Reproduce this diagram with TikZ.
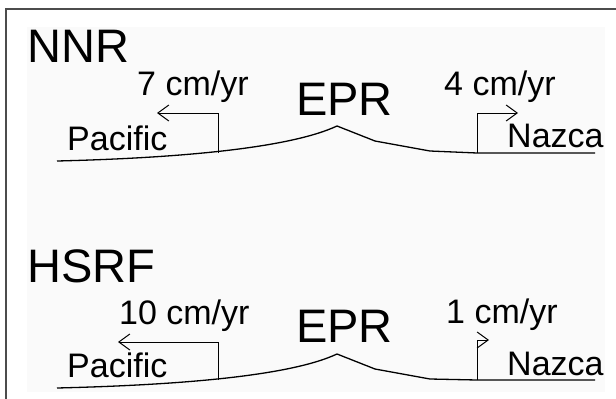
\documentclass[tikz,border=0pt]{standalone}
\usepackage{fontspec}
\setmainfont{Liberation Sans}
\usetikzlibrary{arrows.meta}

\tikzset{
  big/.style={anchor=base west,inner sep=0pt,font=\fontsize{47}{56}\selectfont},
  small/.style={anchor=base west,inner sep=0pt,font=\fontsize{34}{41}\selectfont},
  floor/.style={line width=1.3pt,line join=round},
  motion/.style={line width=1pt,-{Straight Barb[length=11pt,width=16pt]}}
}

\begin{document}
\begin{tikzpicture}[x=1pt,y=-1pt]
        \useasboundingbox (0,0) rectangle (616,399);
        \fill[black!2] (27,27) rectangle (605,392);
        \draw[black!70,line width=1.5pt] (6,399) -- (6,9) -- (616,9);

        % no-net-rotation frame
        \node[big] (nnr) at (27,62) {NNR};
        \node[big] (eprA) at (296,115) {EPR};
        \node[small] (pacA) at (67,150) {Pacific};
        \node[small] (nazA) at (507,147) {Nazca};
        \node[small] (rateWA) at (137,95) {7 cm/yr};
        \node[small] (rateEA) at (444,95) {4 cm/yr};
        \coordinate (ridgeA) at (337,126);
        \coordinate (baseWA) at (218,153);
        \coordinate (tipWA) at (157,113);
        \coordinate (baseEA) at (477,153);
        \coordinate (tipEA) at (518,113);
        \draw[floor] (57,161) .. controls (180,158) and (290,148) .. (ridgeA)
          -- (375,141) -- (430,151) -- (baseEA) -- (595,153);
        \draw[motion] (baseWA) |- (tipWA);
        \draw[motion] (baseEA) |- (tipEA);

        % hotspot reference frame
        \node[big] (hsrf) at (27,282) {HSRF};
        \node[big] (eprB) at (296,342) {EPR};
        \node[small] (pacB) at (67,377) {Pacific};
        \node[small] (nazB) at (507,375) {Nazca};
        \node[small] (rateWB) at (119,324) {10 cm/yr};
        \node[small] (rateEB) at (446,323) {1 cm/yr};
        \coordinate (ridgeB) at (337,354);
        \coordinate (baseWB) at (218,380);
        \coordinate (tipWB) at (118,342);
        \coordinate (baseEB) at (477,380);
        \coordinate (tipEB) at (489,340);
        \draw[floor] (57,388) .. controls (180,385) and (290,376) .. (ridgeB)
          -- (375,369) -- (430,379) -- (baseEB) -- (595,380);
        \draw[motion] (baseWB) |- (tipWB);
        \draw[motion] (baseEB) |- (tipEB);
      \end{tikzpicture}
\end{document}
